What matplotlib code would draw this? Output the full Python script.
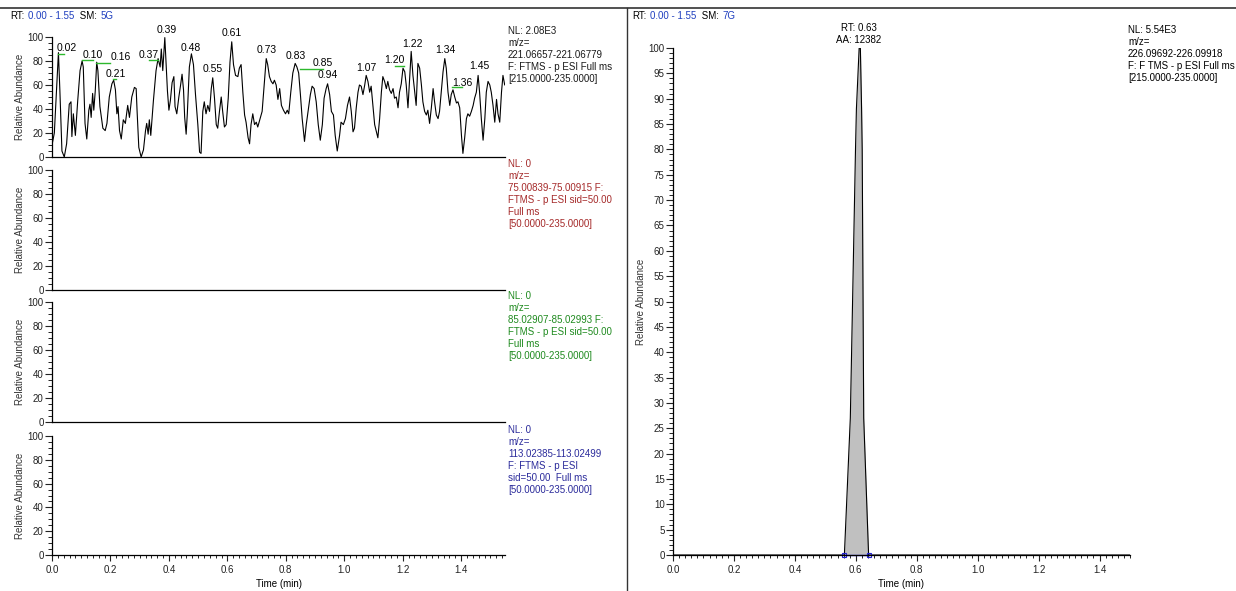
import numpy as np
import matplotlib
matplotlib.use("Agg")
import matplotlib.pyplot as plt
from matplotlib.ticker import MultipleLocator

plt.rcParams['font.family'] = ['Liberation Sans', 'DejaVu Sans']

# ---- data ------------------------------------------------------------------
# top trace (m/z 221.0666-221.0678), time in min vs relative abundance
trace_t = [0.000, 0.008, 0.022, 0.027, 0.034, 0.042, 0.050, 0.059, 0.065, 0.068,
           0.073, 0.076, 0.080, 0.088, 0.096, 0.103, 0.107, 0.113, 0.119, 0.126,
           0.130, 0.134, 0.139, 0.143, 0.148, 0.153, 0.157, 0.164, 0.174, 0.182,
           0.188, 0.196, 0.205, 0.211, 0.217, 0.222, 0.226, 0.231, 0.237, 0.244,
           0.251, 0.259, 0.265, 0.273, 0.282, 0.288, 0.291, 0.297, 0.305, 0.313,
           0.320, 0.324, 0.329, 0.333, 0.338, 0.347, 0.356, 0.363, 0.370, 0.374,
           0.379, 0.386, 0.390, 0.395, 0.400, 0.405, 0.411, 0.417, 0.421, 0.427,
           0.434, 0.440, 0.445, 0.450, 0.454, 0.459, 0.463, 0.470, 0.477, 0.484,
           0.491, 0.499, 0.505, 0.510, 0.516, 0.521, 0.527, 0.533, 0.539, 0.545,
           0.550, 0.556, 0.562, 0.567, 0.573, 0.579, 0.584, 0.590, 0.596, 0.603,
           0.609, 0.615, 0.621, 0.628, 0.636, 0.641, 0.647, 0.653, 0.659, 0.664,
           0.671, 0.676, 0.681, 0.687, 0.693, 0.699, 0.704, 0.712, 0.719, 0.726,
           0.733, 0.738, 0.744, 0.750, 0.756, 0.761, 0.767, 0.773, 0.779, 0.785,
           0.792, 0.799, 0.805, 0.810, 0.817, 0.824, 0.832, 0.838, 0.844, 0.850,
           0.856, 0.864, 0.870, 0.878, 0.884, 0.890, 0.897, 0.904, 0.911, 0.918,
           0.925, 0.931, 0.938, 0.943, 0.950, 0.956, 0.963, 0.969, 0.976, 0.984,
           0.989, 0.997, 1.004, 1.011,
           1.018, 1.024, 1.030, 1.035, 1.041, 1.047, 1.052, 1.058, 1.064, 1.070,
           1.075, 1.081, 1.087, 1.092, 1.098, 1.104, 1.110, 1.115, 1.121, 1.127,
           1.132, 1.138, 1.144, 1.149, 1.155, 1.161, 1.167, 1.172, 1.178, 1.184,
           1.189, 1.195, 1.201, 1.207, 1.212, 1.218, 1.224, 1.229, 1.235, 1.241,
           1.246, 1.252, 1.258, 1.264, 1.269, 1.275, 1.281, 1.286, 1.292, 1.298,
           1.304, 1.309, 1.315, 1.321, 1.326, 1.332, 1.338, 1.344, 1.349, 1.355,
           1.361, 1.366, 1.372, 1.378, 1.384, 1.389, 1.395, 1.401, 1.406, 1.412,
           1.418, 1.423, 1.429, 1.435, 1.441, 1.446, 1.452, 1.458, 1.463, 1.469,
           1.475, 1.481, 1.486, 1.492, 1.498, 1.503, 1.509, 1.515, 1.521, 1.526,
           1.532, 1.538, 1.543, 1.549, 1.555]
trace_y = [10, 20, 87, 55, 5, 0, 11, 44, 46, 17,
           36, 28, 18, 47, 72, 80, 75, 28, 15, 39,
           44, 33, 53, 39, 55, 79, 72, 42, 24, 22,
           28, 50, 61, 64, 56, 36, 42, 22, 15, 31,
           28, 43, 33, 50, 58, 57, 39, 8, 0, 6,
           22, 28, 19, 31, 18, 47, 72, 82, 75, 90,
           72, 99.5, 80, 55, 39, 47, 62, 67, 42, 36,
           50, 60, 69, 56, 33, 19, 36, 75, 86, 77,
           52, 27, 4, 3, 38, 46, 36, 43, 38, 57,
           66, 49, 27, 24, 38, 50, 38, 25, 27, 49,
           79, 96, 77, 68, 67, 74, 77, 54, 35, 29,
           16, 11, 27, 36, 27, 29, 25, 32, 38, 60,
           82, 77, 67, 63, 61, 64, 60, 48, 57, 43,
           39, 36, 39, 36, 54, 70, 78, 75, 70, 52,
           32, 13, 27, 41, 52, 59, 57, 46, 27, 14,
           27, 49, 57, 61, 52, 38, 35, 18, 5, 18,
           29, 27, 32, 43,
           50, 38, 21, 24, 41, 54, 60, 59, 52, 60,
           68, 63, 54, 59, 43, 27, 21, 16, 32, 54,
           67, 63, 57, 63, 56, 53, 57, 49, 50, 41,
           54, 61, 74, 71, 60, 41, 66, 88, 68, 54,
           43, 78, 74, 60, 46, 38, 35, 39, 28, 41,
           57, 46, 35, 32, 38, 54, 71, 82, 74, 54,
           43, 52, 56, 50, 45, 46, 41, 18, 3, 16,
           32, 36, 34, 38, 43, 49, 54, 68, 54, 32,
           14, 32, 54, 63, 60, 54, 43, 29, 48, 36,
           29, 54, 68, 60, 63]

# peak labels on the top trace: text, text position, optional green leader
peak_text = ['0.02', '0.10', '0.16', '0.21', '0.37', '0.39', '0.48', '0.55', '0.61', '0.73',
             '0.83', '0.85', '0.94', '1.07', '1.20', '1.22', '1.34', '1.36', '1.45']
peak_tx = [0.049, 0.138, 0.234, 0.217, 0.330, 0.391, 0.474, 0.549, 0.614, 0.734,
           0.833, 0.927, 0.943, 1.076, 1.172, 1.234, 1.347, 1.405, 1.463]
peak_ty = [91, 85, 83, 69, 85, 106, 91, 73, 103, 89,
           84, 78, 68, 74, 81, 94, 89, 62, 76]
leader_x0 = [0.022, 0.103, 0.152, 0.210, 0.333, 0.850, 1.172, 1.368]
leader_x1 = [0.042, 0.139, 0.199, 0.219, 0.364, 0.926, 1.203, 1.402]
leader_y = [86, 81, 78, 65, 81, 73, 76, 58]

# right trace (m/z 226.0969-226.0992)
peak2_t = [0.0, 0.5625, 0.582, 0.599, 0.602, 0.611, 0.615, 0.619, 0.621, 0.626, 0.642, 1.5]
peak2_y = [0, 0, 27, 80, 88, 100, 100, 88, 80, 27, 0, 0]
base2_t = [0.5625, 0.642]

left_info = [
    ("NL: 2.08E3\nm/z=\n221.06657-221.06779\nF: FTMS - p ESI Full ms\n[215.0000-235.0000]", "#1a1a1a"),
    ("NL: 0\nm/z=\n75.00839-75.00915 F:\nFTMS - p ESI sid=50.00\nFull ms\n[50.0000-235.0000]", "#a52a2a"),
    ("NL: 0\nm/z=\n85.02907-85.02993 F:\nFTMS - p ESI sid=50.00\nFull ms\n[50.0000-235.0000]", "#1f8a1f"),
    ("NL: 0\nm/z=\n113.02385-113.02499\nF: FTMS - p ESI\nsid=50.00  Full ms\n[50.0000-235.0000]", "#2b2b9b"),
]
right_info = "NL: 5.54E3\nm/z=\n226.09692-226.09918\nF: F TMS - p ESI Full ms\n[215.0000-235.0000]"

# ---- figure ----------------------------------------------------------------
W, H = 1236, 591
fig = plt.figure(figsize=(W / 100, H / 100), dpi=100)


def box(x0, y0, x1, y1):
    return [x0 / W, 1 - y1 / H, (x1 - x0) / W, (y1 - y0) / H]


FS = 7
TICK_C = '#222222'


def style_axis(ax, show_x, ymax, ymaj, ymin):
    for s in ['top', 'right']:
        ax.spines[s].set_visible(False)
    for s in ['left', 'bottom']:
        ax.spines[s].set_linewidth(0.9)
    ax.set_ylim(0, ymax)
    ax.yaxis.set_major_locator(MultipleLocator(ymaj))
    ax.yaxis.set_minor_locator(MultipleLocator(ymin))
    ax.tick_params(axis='y', which='major', length=5, width=0.8, labelsize=FS, pad=1, colors=TICK_C)
    ax.tick_params(axis='y', which='minor', length=3, width=0.6)
    ax.set_ylabel('Relative Abundance', fontsize=FS, labelpad=6, color='#333333')
    if show_x:
        ax.xaxis.set_major_locator(MultipleLocator(0.2))
        ax.xaxis.set_minor_locator(MultipleLocator(0.02))
        ax.tick_params(axis='x', which='major', length=4, width=0.8, labelsize=FS, pad=3, colors=TICK_C)
        ax.tick_params(axis='x', which='minor', length=2, width=0.6)
        ax.set_xlabel('Time (min)', fontsize=FS, labelpad=3)
    else:
        ax.set_xticks([])


left_rows = [(37, 157), (170, 290), (302, 422), (436, 555)]
axes_left = []
for i, (y0, y1) in enumerate(left_rows):
    ax = fig.add_axes(box(52, y0, 505, y1))
    ax.set_xlim(0, 1.55)
    style_axis(ax, i == 3, 100, 20, 5)
    ax.yaxis.set_label_coords(-0.06, 0.5)
    axes_left.append(ax)
    txt, col = left_info[i]
    fig.text(508 / W, 1 - (y0 - 11) / H, txt, fontsize=FS, color=col, va='top', ha='left',
             linespacing=1.25)

ax1 = axes_left[0]
ax1.plot(trace_t, trace_y, color='black', lw=0.8)
for s, x, y in zip(peak_text, peak_tx, peak_ty):
    ax1.text(x, y, s, fontsize=7.5, ha='center', va='center', clip_on=False)
for x0, x1, y in zip(leader_x0, leader_x1, leader_y):
    ax1.plot([x0, x1], [y, y], color='#2db82d', lw=1.0, clip_on=False)

# right panel
axr = fig.add_axes(box(673, 48, 1130, 555))
axr.set_xlim(0, 1.5)
style_axis(axr, True, 100, 5, 1)
axr.yaxis.set_label_coords(-0.06, 0.5)
axr.fill_between(peak2_t, peak2_y, color='#c0c0c0', lw=0)
axr.plot(peak2_t, peak2_y, color='black', lw=0.8)
axr.plot(base2_t, [0, 0], color='#2020d0', lw=1.0, marker='s', ms=3.5, mfc='none', mew=0.8,
         clip_on=False)
axr.text(0.609, 100.6, 'RT: 0.63\nAA: 12382', fontsize=FS, ha='center', va='bottom',
         clip_on=False, linespacing=1.3)
fig.text(1128 / W, 1 - 25 / H, right_info, fontsize=FS, va='top', ha='left', linespacing=1.25)


# header strings with mixed colours
def header_parts(x, parts):
    t = fig.text(x / W, 1 - 19 / H, parts[0][0], fontsize=FS, color=parts[0][1], va='baseline')
    for s, c in parts[1:]:
        t = plt.annotate(s, xy=(1, 0), xycoords=t, xytext=(2.5, 0), textcoords='offset points',
                         fontsize=FS, color=c, va='bottom', annotation_clip=False)
    return t


header_parts(10, [('RT:', 'black'), ('0.00 - 1.55', '#1f3fbf'), (' SM:', 'black'), ('5G', '#1f3fbf')])
header_parts(632, [('RT:', 'black'), ('0.00 - 1.55', '#1f3fbf'), (' SM:', 'black'), ('7G', '#1f3fbf')])

# frame lines
fig.add_artist(plt.Line2D([0, 1], [1 - 8 / H, 1 - 8 / H], color='#333333', lw=1.2,
                          transform=fig.transFigure))
fig.add_artist(plt.Line2D([627 / W, 627 / W], [0, 1 - 8 / H], color='#333333', lw=1.0,
                          transform=fig.transFigure))

fig.savefig('out.png', dpi=100)
